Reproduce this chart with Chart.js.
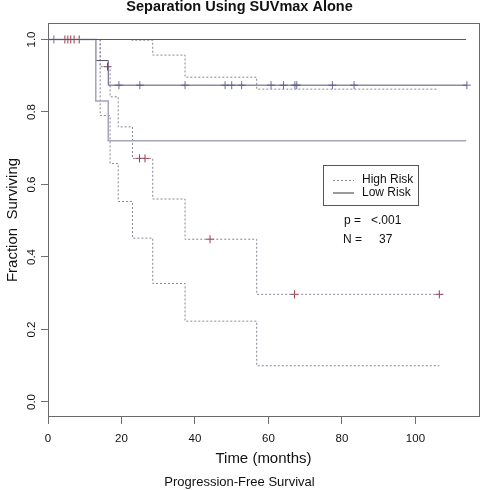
<!DOCTYPE html>
<html>
<head>
<meta charset="utf-8">
<script src="https://cdn.jsdelivr.net/npm/chart.js@4/dist/chart.umd.min.js"></script>
<style>
  html, body { margin: 0; padding: 0; background: #ffffff; }
  #c { display: block; }
</style>
</head>
<body>
<canvas id="c" width="484" height="490"></canvas>
<script>
// ---------- data ----------
const titleText = "Separation Using SUVmax Alone";
const xTitle = "Time (months)";
const yTitle = "Fraction  Surviving";
const subTitle = "Progression-Free Survival";
const xTicks = [0, 20, 40, 60, 80, 100];
const yTicks = [0.0, 0.2, 0.4, 0.6, 0.8, 1.0];
const legendLabels = ["High Risk", "Low Risk"];
const statLabels = ["p =", "N ="];
const statValues = ["<.001", "37"];

// Low risk: Kaplan-Meier estimate and confidence band (solid)
const lowTimes = [0, 13.0, 16.4, 114.0];
const lowSurv = [1.0, 0.942, 0.874, 0.874];
const lowUpperTimes = [0, 113.8];
const lowUpperSurv = [1.0, 1.0];
const lowLowerTimes = [0, 13.0, 16.4, 113.8];
const lowLowerSurv = [1.0, 0.830, 0.721, 0.721];
const lowCensorTimes = [1.6, 19.3, 25.0, 37.3, 48.2, 50.0, 52.7, 60.7, 64.1, 67.2, 67.7, 77.4, 83.3, 114.0];
const lowCensorSurv = [1.0, 0.874, 0.874, 0.874, 0.874, 0.874, 0.874, 0.874, 0.874, 0.874, 0.874, 0.874, 0.874, 0.874];

// High risk: Kaplan-Meier estimate and confidence band (dotted)
const highTimes = [0, 14.2, 16.9, 19.1, 23.0, 28.5, 37.3, 56.8, 106.5];
const highSurv = [1.0, 0.925, 0.842, 0.759, 0.672, 0.560, 0.449, 0.297, 0.297];
const highUpperTimes = [0, 22.8, 28.5, 37.3, 56.8, 106.1];
const highUpperSurv = [1.0, 0.998, 0.957, 0.896, 0.863, 0.863];
const highLowerTimes = [0, 14.2, 16.9, 19.1, 23.0, 28.5, 37.3, 56.8, 106.5];
const highLowerSurv = [1.0, 0.790, 0.658, 0.553, 0.452, 0.327, 0.223, 0.100, 0.100];
const highCensorTimes = [4.6, 5.4, 6.2, 7.1, 8.5, 16.2, 24.9, 26.4, 44.1, 67.1, 106.5];
const highCensorSurv = [1.0, 1.0, 1.0, 1.0, 1.0, 0.925, 0.672, 0.672, 0.449, 0.297, 0.297];

// ---------- styling ----------
const FONT = "'Liberation Sans', Arial, Helvetica, sans-serif";
const solidDark = '#545474';
const solidLight = '#a4a4bc';
const dotColor = '#8c8494';
const crossRed = '#a03545';
const tickBlue = '#6a6a9c';

const pts = (xs, ys) => xs.map((x, i) => ({ x: x, y: ys[i] }));

function stepLine(label, xs, ys, color, dashed, width) {
  return {
    label: label,
    data: pts(xs, ys),
    showLine: true,
    stepped: 'before',
    borderColor: color,
    borderWidth: width || 1,
    borderDash: dashed ? [2, 2] : [],
    pointRadius: 0,
    fill: false
  };
}
function censor(label, xs, ys, color) {
  return {
    label: label,
    data: pts(xs, ys),
    showLine: false,
    pointStyle: 'cross',
    pointRadius: 4,
    pointBorderColor: color,
    pointBorderWidth: 1,
    pointBackgroundColor: color
  };
}

const boxPlugin = {
  id: 'rbox',
  afterDraw(chart) {
    const ctx = chart.ctx;
    const a = chart.chartArea;
    ctx.save();
    ctx.strokeStyle = '#6a6a6a';
    ctx.lineWidth = 1;
    ctx.setLineDash([]);
    ctx.strokeRect(Math.round(a.left) + 0.5, Math.round(a.top) + 0.5,
                   Math.round(a.right - a.left), Math.round(a.bottom - a.top) - 1);

    // legend box
    const lx = 323.5, ly = 165.5, lw = 95, lh = 40;
    ctx.strokeStyle = '#555555';
    ctx.strokeRect(lx, ly, lw, lh);
    ctx.font = '12px ' + FONT;
    ctx.fillStyle = '#111111';
    ctx.textBaseline = 'middle';
    ctx.textAlign = 'left';
    // high risk sample (dotted)
    ctx.strokeStyle = dotColor;
    ctx.setLineDash([2, 2]);
    ctx.beginPath(); ctx.moveTo(333, 180.5); ctx.lineTo(354, 180.5); ctx.stroke();
    ctx.fillText(legendLabels[0], 362, 180);
    // low risk sample (solid)
    ctx.setLineDash([]);
    ctx.strokeStyle = '#9a9a9a';
    ctx.lineWidth = 2;
    ctx.beginPath(); ctx.moveTo(333, 193); ctx.lineTo(354, 193); ctx.stroke();
    ctx.fillText(legendLabels[1], 362, 193);

    // statistics
    ctx.fillText(statLabels[0], 344, 221);
    ctx.fillText(statValues[0], 371, 221);
    ctx.fillText(statLabels[1], 343, 239.5);
    ctx.fillText(statValues[1], 379, 239.5);
    ctx.restore();
  }
};

new Chart(document.getElementById('c'), {
  type: 'scatter',
  data: {
    datasets: [
      stepLine('Low Risk upper', lowUpperTimes, lowUpperSurv, solidDark, false),
      stepLine('Low Risk lower', lowLowerTimes, lowLowerSurv, solidLight, false, 1.5),
      stepLine('Low Risk', lowTimes, lowSurv, solidDark, false),
      stepLine('High Risk upper', highUpperTimes, highUpperSurv, dotColor, true),
      stepLine('High Risk lower', highLowerTimes, highLowerSurv, dotColor, true),
      stepLine('High Risk', highTimes, highSurv, dotColor, true),
      censor('Low Risk censored', lowCensorTimes, lowCensorSurv, tickBlue),
      censor('High Risk censored', highCensorTimes, highCensorSurv, crossRed)
    ]
  },
  options: {
    responsive: false,
    animation: false,
    devicePixelRatio: 1,
    layout: { padding: { left: 0, right: 5, top: 0, bottom: 0 } },
    plugins: {
      legend: { display: false },
      tooltip: { enabled: false },
      title: {
        display: true,
        text: titleText,
        color: '#111111',
        font: { family: FONT, size: 14.5, weight: 'bold', lineHeight: 1 },
        padding: { top: 0, bottom: 8.5 }
      },
      subtitle: {
        display: true,
        text: subTitle,
        position: 'bottom',
        color: '#111111',
        font: { family: FONT, size: 13, weight: 'normal', lineHeight: 1.2 },
        padding: { top: 0, bottom: 0 }
      }
    },
    scales: {
      x: {
        type: 'linear',
        min: 0,
        max: 117.3,
        afterBuildTicks: (s) => { s.ticks = xTicks.map(v => ({ value: v })); },
        afterFit: (s) => { s.height = 57.4; },
        grid: { display: true, drawOnChartArea: false, drawTicks: true, tickLength: 7, color: '#707070' },
        border: { display: false },
        ticks: {
          font: { family: FONT, size: 11.5 },
          color: '#111111',
          padding: 7.5,
          maxRotation: 0,
          minRotation: 0,
          callback: (v) => String(v)
        },
        title: {
          display: true,
          text: xTitle,
          color: '#111111',
          font: { family: FONT, size: 15, lineHeight: 1.2 },
          padding: { top: 0, bottom: 6.4 }
        }
      },
      y: {
        type: 'linear',
        min: -0.0414,
        max: 1.0455,
        afterBuildTicks: (s) => { s.ticks = yTicks.map(v => ({ value: v })); },
        afterFit: (s) => { s.width = 48; },
        grid: { display: true, drawOnChartArea: false, drawTicks: true, tickLength: 7, color: '#707070' },
        border: { display: false },
        ticks: {
          font: { family: FONT, size: 11.5 },
          color: '#111111',
          padding: 1.5,
          minRotation: 90,
          maxRotation: 90,
          crossAlign: 'center',
          callback: (v) => Number(v).toFixed(1)
        },
        title: {
          display: true,
          text: yTitle,
          color: '#111111',
          font: { family: FONT, size: 15, lineHeight: 1.2 },
          padding: { top: 4, bottom: 0 }
        }
      }
    }
  },
  plugins: [boxPlugin]
});
</script>
</body>
</html>
